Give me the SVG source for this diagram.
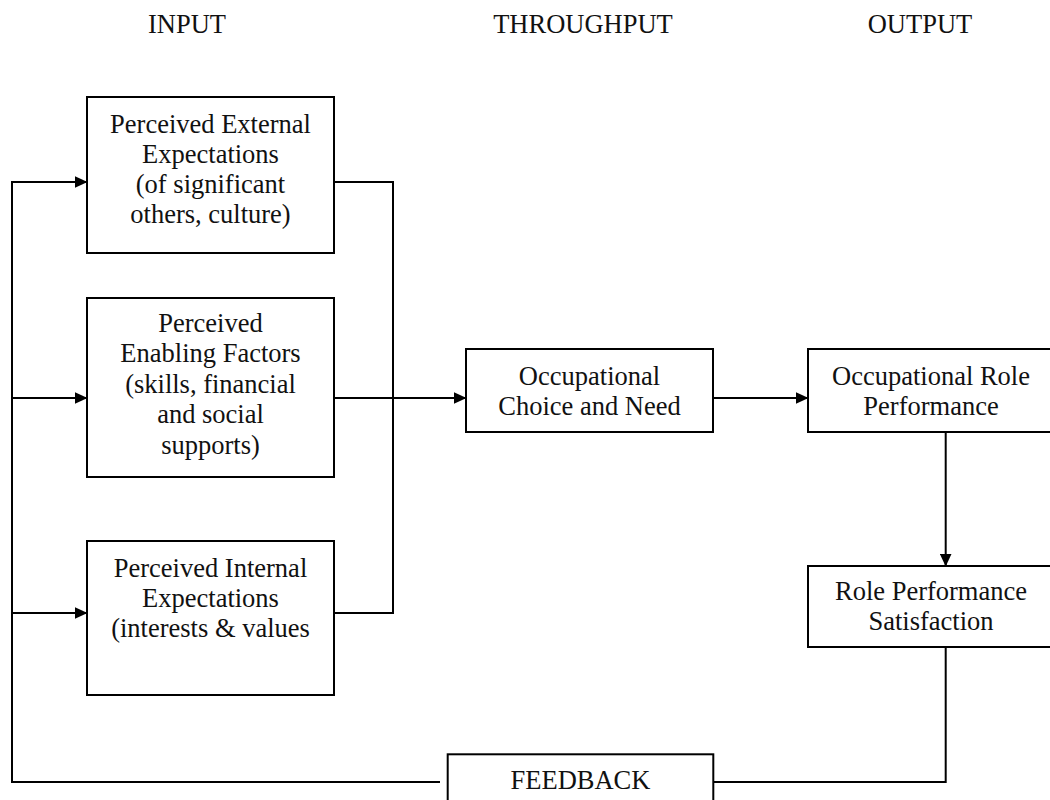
<svg xmlns="http://www.w3.org/2000/svg" width="1050" height="800" viewBox="0 0 1050 800">
<style>
.box{fill:#fff;stroke:#000;stroke-width:2}
.t{font-family:"Liberation Serif","Times New Roman",serif;font-size:26.5px;fill:#111;text-anchor:middle}
.c{fill:none;stroke:#000;stroke-width:2}
</style>
<defs>
<marker id="ah" markerWidth="13" markerHeight="12" refX="12.5" refY="6" orient="auto" markerUnits="userSpaceOnUse">
<path d="M0,0 L13,6 L0,12 Z" fill="#000"/>
</marker>
</defs>
<rect width="1050" height="800" fill="#fff"/>
<g id="headers">
<text class="t" x="187" y="33">INPUT</text>
<text class="t" x="583" y="33">THROUGHPUT</text>
<text class="t" x="920" y="33">OUTPUT</text>
</g>
<g id="connectors">
<polyline class="c" points="945.7,647 945.7,782 713,782"/>
<polyline class="c" points="440,782 12,782 12,182 87,182" marker-end="url(#ah)"/>
<line class="c" x1="12" y1="398" x2="87" y2="398" marker-end="url(#ah)"/>
<line class="c" x1="12" y1="613" x2="87" y2="613" marker-end="url(#ah)"/>
<polyline class="c" points="334,182 393,182 393,613 334,613"/>
<line class="c" x1="334" y1="398" x2="466" y2="398" marker-end="url(#ah)"/>
<line class="c" x1="713" y1="398" x2="808" y2="398" marker-end="url(#ah)"/>
<line class="c" x1="945.7" y1="432" x2="945.7" y2="566" marker-end="url(#ah)"/>
</g>
<g id="external">
<rect class="box" x="87" y="97" width="247" height="156"/>
<text class="t" x="210.5" y="133">Perceived External</text>
<text class="t" x="210.5" y="163">Expectations</text>
<text class="t" x="210.5" y="193">(of significant</text>
<text class="t" x="210.5" y="223">others, culture)</text>
</g>
<g id="enabling">
<rect class="box" x="87" y="298" width="247" height="179"/>
<text class="t" x="210.5" y="332">Perceived</text>
<text class="t" x="210.5" y="362">Enabling Factors</text>
<text class="t" x="210.5" y="393">(skills, financial</text>
<text class="t" x="210.5" y="423">and social</text>
<text class="t" x="210.5" y="454">supports)</text>
</g>
<g id="internal">
<rect class="box" x="87" y="541" width="247" height="154"/>
<text class="t" x="210.5" y="577">Perceived Internal</text>
<text class="t" x="210.5" y="607">Expectations</text>
<text class="t" x="210.5" y="637">(interests &amp; values</text>
</g>
<g id="choice">
<rect class="box" x="466" y="349" width="247" height="83"/>
<text class="t" x="589.5" y="385">Occupational</text>
<text class="t" x="589.5" y="415">Choice and Need</text>
</g>
<g id="role">
<rect class="box" x="808" y="349" width="248" height="83"/>
<text class="t" x="931" y="385">Occupational Role</text>
<text class="t" x="931" y="415">Performance</text>
</g>
<g id="satisfaction">
<rect class="box" x="808" y="566" width="248" height="81"/>
<text class="t" x="931" y="600">Role Performance</text>
<text class="t" x="931" y="630">Satisfaction</text>
</g>
<g id="feedback">
<rect class="box" x="447.7" y="754.3" width="265.6" height="60"/>
<text class="t" x="580.5" y="789">FEEDBACK</text>
</g>
</svg>
